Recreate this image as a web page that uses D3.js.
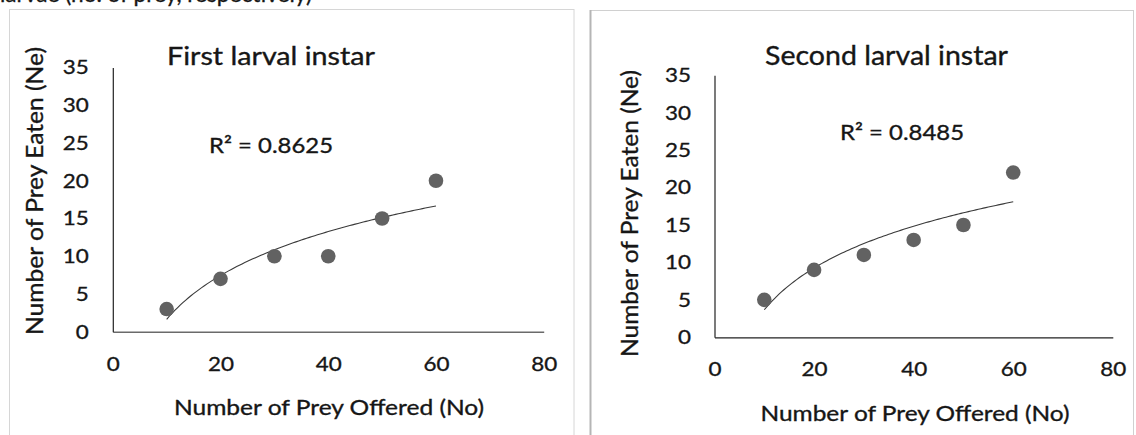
<!DOCTYPE html>
<html><head><meta charset="utf-8">
<script src="https://cdn.jsdelivr.net/npm/d3@7"></script>
<style>
body{margin:0;background:#fff;}
svg{display:block;}
text{font-family:Lato,"Open Sans",sans-serif;fill:#161616;stroke:#161616;stroke-width:0.35px;}
</style>
</head><body>
<svg id="c" width="1136" height="435"></svg>
<script>
// ---- data ----
const offered = [10, 20, 30, 40, 50, 60];
const eatenFirst = [3, 7, 10, 10, 15, 20];
const eatenSecond = [5, 9, 11, 13, 15, 22];
const chartTitles = ["First larval instar", "Second larval instar"];
const r2Labels = ["R\u00B2 = 0.8625", "R\u00B2 = 0.8485"];
const xTickValues = [0, 20, 40, 60, 80];
const yTickValues = [0, 5, 10, 15, 20, 25, 30, 35];
const xAxisTitle = "Number of Prey Offered (No)";
const yAxisTitle = "Number of Prey Eaten (Ne)";
const headerText = "larvae (no. of prey, respectively)";

const svg = d3.select("#c");

// header text, cut off at the top of the crop as in the reference
svg.append("text").attr("x", 0).attr("y", 2).attr("font-size", 24)
  .attr("textLength", 312).attr("lengthAdjust", "spacingAndGlyphs").text(headerText);

// panel frames
svg.append("rect").attr("x", 9.5).attr("y", 9.5).attr("width", 564.5).attr("height", 440)
  .attr("fill", "#fff").attr("stroke", "#d6d6d6").attr("stroke-width", 1);
svg.append("rect").attr("x", 590.5).attr("y", 10.5).attr("width", 543).attr("height", 440)
  .attr("fill", "#fff").attr("stroke", "#d0d0d0").attr("stroke-width", 1);
svg.append("line").attr("x1", 590.5).attr("x2", 590.5).attr("y1", 10).attr("y2", 435)
  .attr("stroke", "#b5b5b5").attr("stroke-width", 2);

function logFit(xs, ys) {
  const lx = xs.map(Math.log);
  const mx = d3.mean(lx), my = d3.mean(ys);
  let sxy = 0, sxx = 0;
  lx.forEach((v, i) => { sxy += (v - mx) * (ys[i] - my); sxx += (v - mx) * (v - mx); });
  const a = sxy / sxx;
  return { a, b: my - a * mx };
}

const panels = [
  { series: eatenFirst, title: chartTitles[0], r2: r2Labels[0],
    xr: [112.8, 543.7], yr: [331.7, 67.5],
    titleX: 271, titleY: 65, titleW: 208, titleFs: 25,
    r2X: 271, r2Y: 153, r2W: 124,
    yTitleX: 43, yTitleY: 191, yTitleW: 288,
    xTitleX: 329, xTitleY: 415, xTitleW: 310,
    yPad: 24, xPad: 25, xAxisColor: "#6a6a6a", xAxisW: 1.6 },
  { series: eatenSecond, title: chartTitles[1], r2: r2Labels[1],
    xr: [714.5, 1112.8], yr: [337.3, 75.2],
    titleX: 886.5, titleY: 65, titleW: 243, titleFs: 26.5,
    r2X: 902, r2Y: 140, r2W: 124,
    yTitleX: 638, yTitleY: 213.5, yTitleW: 287,
    xTitleX: 915, xTitleY: 421, xTitleW: 309,
    yPad: 23.5, xPad: 25, xAxisColor: "#222", xAxisW: 1.2 }
];

panels.forEach(p => {
  const x = d3.scaleLinear().domain([0, 80]).range(p.xr);
  const y = d3.scaleLinear().domain([0, 35]).range(p.yr);
  const g = svg.append("g");

  // axes
  const gx = g.append("g").attr("transform", `translate(0,${p.yr[0]})`)
    .call(d3.axisBottom(x).tickValues(xTickValues).tickSize(0).tickPadding(p.xPad));
  gx.select(".domain").attr("stroke", p.xAxisColor).attr("stroke-width", p.xAxisW);
  gx.selectAll("text").attr("font-family", "Lato").attr("font-size", 20)
    .attr("textLength", d => String(d).length * 13).attr("lengthAdjust", "spacingAndGlyphs");

  const gy = g.append("g").attr("transform", `translate(${p.xr[0]},0)`)
    .call(d3.axisLeft(y).tickValues(yTickValues).tickSize(0).tickPadding(p.yPad));
  gy.select(".domain").attr("stroke", "#222").attr("stroke-width", 1.2);
  gy.selectAll("text").attr("font-family", "Lato").attr("font-size", 20)
    .attr("textLength", d => String(d).length * 13).attr("lengthAdjust", "spacingAndGlyphs");

  // trendline (logarithmic fit of the data)
  const fit = logFit(offered, p.series);
  const xs = d3.range(offered[0], offered[offered.length - 1] + 0.001, 0.5);
  g.append("path").datum(xs)
    .attr("d", d3.line().x(d => x(d)).y(d => y(fit.a * Math.log(d) + fit.b)))
    .attr("fill", "none").attr("stroke", "#3a3a3a").attr("stroke-width", 1.1);

  // points
  g.selectAll("circle").data(offered).join("circle")
    .attr("cx", d => x(d)).attr("cy", (d, i) => y(p.series[i]))
    .attr("r", 7.3).attr("fill", "#626262");

  // texts
  g.append("text").attr("x", p.titleX).attr("y", p.titleY).attr("text-anchor", "middle")
    .attr("font-size", p.titleFs).attr("textLength", p.titleW).attr("lengthAdjust", "spacingAndGlyphs")
    .text(p.title);
  g.append("text").attr("x", p.r2X).attr("y", p.r2Y).attr("text-anchor", "middle")
    .attr("font-size", 22).attr("textLength", p.r2W).attr("lengthAdjust", "spacingAndGlyphs")
    .text(p.r2);
  g.append("text").attr("x", p.xTitleX).attr("y", p.xTitleY).attr("text-anchor", "middle")
    .attr("font-size", 21.5).attr("textLength", p.xTitleW).attr("lengthAdjust", "spacingAndGlyphs")
    .text(xAxisTitle);
  g.append("text").attr("transform", `translate(${p.yTitleX},${p.yTitleY}) rotate(-90)`)
    .attr("text-anchor", "middle")
    .attr("font-size", 24).attr("textLength", p.yTitleW).attr("lengthAdjust", "spacingAndGlyphs")
    .text(yAxisTitle);
});
</script>
</body></html>
